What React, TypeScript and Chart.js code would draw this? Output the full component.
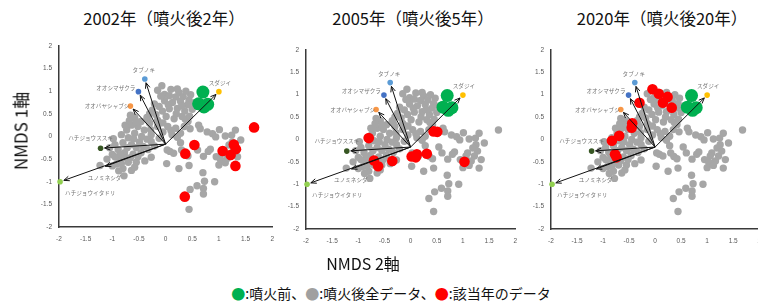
import React, { useEffect, useRef } from "react";
import { Chart, registerables } from "chart.js";

Chart.register(...registerables);

// ---------- data ----------
const panelTitles = ["2002年（噴火後2年）", "2005年（噴火後5年）", "2020年（噴火後20年）"];
const axisTicks = [-2, -1.5, -1, -0.5, 0, 0.5, 1, 1.5, 2];
const yAxisTitle = "NMDS 1軸";
const xAxisTitle = "NMDS 2軸";
const legendLabels = ["噴火前、", "噴火後全データ、", "該当年のデータ"];

const speciesNames = ["タブノキ", "オオシマザクラ", "オオバヤシャブシ", "ハチジョウススキ", "ユノミネシダ", "ハチジョウイタドリ", "スダジイ"];
const speciesNmds2 = [-0.39, -0.51, -0.66, -1.22, -1.2, -1.98, 1.0];
const speciesNmds1 = [1.27, 0.99, 0.67, -0.26, -0.69, -1.0, 0.99];
const vectorOrigin = [0, -0.17];

// [NMDS2, NMDS1]
const preEruption = [[0.70, 0.98], [0.62, 0.72], [0.72, 0.65], [0.79, 0.71]];

const postEruptionAll = [
  [-0.07, 1.12], [0.10, 1.04], [0.25, 0.97], [-0.15, 1.02], [-0.02, 0.93], [0.07, 0.90], [0.19, 0.87], [0.33, 0.88],
  [0.47, 0.92], [0.44, 0.80], [-0.02, 0.79], [0.13, 0.75], [0.28, 0.78], [0.41, 0.70], [0.53, 0.74], [-0.12, 0.66],
  [-0.06, 0.56], [0.07, 0.61], [0.22, 0.62], [0.36, 0.56], [0.50, 0.60], [-0.25, 0.58], [-0.18, 0.48], [0.01, 0.44],
  [0.16, 0.39], [0.31, 0.44], [0.42, 0.33], [-0.35, 0.42], [-0.30, 0.29], [-0.15, 0.22], [0.04, 0.22], [0.19, 0.18],
  [0.28, 0.07], [0.12, 0.04], [-0.05, 0.10], [-0.27, 0.04], [-0.40, 0.14], [-0.46, 0.33], [-0.58, 0.42], [-0.52, 0.22],
  [-0.64, 0.25], [-0.66, 0.47], [-0.73, 0.14], [-0.83, 0.04], [-0.70, -0.03], [-0.58, 0.07], [-0.45, 0.00], [-0.35, -0.06],
  [-0.49, -0.12], [-0.64, -0.18], [-0.80, -0.14], [-0.95, -0.18], [-0.89, -0.29], [-0.77, -0.36], [-0.61, -0.39], [-0.46, -0.36],
  [-0.33, -0.29], [-0.21, -0.21], [-0.27, -0.11], [-0.12, -0.04], [-0.55, -0.25], [-0.72, -0.25], [-0.86, -0.50], [-0.70, -0.57],
  [-0.55, -0.57], [-0.39, -0.54], [-0.27, -0.46], [-0.42, -0.22], [-0.66, -0.47], [-0.80, -0.71], [-0.64, -0.75], [-0.92, -0.61],
  [-0.78, -0.87], [-0.88, -0.76], [-1.00, -0.65], [-1.10, -0.50], [-1.23, -0.64], [-0.98, -0.05], [-1.00, -0.40], [0.37, 0.38],
  [-0.11, 0.30], [0.03, -0.30], [-0.33, 0.36], [-0.76, 0.25], [-0.09, 0.89],
  [-0.21, 0.72], [-0.30, 0.50], [-0.15, 0.36], [-0.28, 0.15], [0.22, 1.05], [0.38, 1.00], [0.05, 0.70], [0.30, 0.67],
  [0.20, 0.50], [0.45, 0.45], [-0.05, 0.30], [0.10, 0.13], [0.22, -0.02], [-0.60, -0.05], [-0.85, -0.40], [-0.52, -0.45],
  [-0.75, -0.47], [-0.95, -0.45], [-0.58, -0.68], [-0.83, -0.60], [-1.05, -0.25], [-0.68, 0.35], [-0.55, 0.33], [0.95, -0.45],
  [1.35, -0.45], [0.60, -0.30],
  [1.68, 0.21], [0.62, 0.25], [0.65, 0.17], [0.78, 0.10], [0.88, 0.06], [1.01, 0.15], [1.12, 0.01], [1.24, 0.03],
  [1.31, 0.14], [1.41, -0.08], [1.25, -0.12], [1.19, -0.19], [1.28, -0.26], [1.09, -0.30], [1.22, -0.37], [1.06, -0.37],
  [1.16, -0.48], [1.03, -0.51], [1.00, -0.63], [1.12, -0.58], [1.31, -0.64], [0.94, -0.01], [0.84, -0.28], [0.80, -0.33],
  [0.71, -0.44], [0.54, -0.17], [0.46, 0.17], [0.35, 0.22], [0.28, -0.14], [0.30, -0.30], [0.36, -0.38], [0.42, -0.43],
  [0.08, -0.33], [0.15, -0.37], [0.02, -0.60], [0.25, -0.71], [0.44, -0.64], [0.70, -0.80], [0.92, -1.00], [0.73, -0.99],
  [0.59, -1.09], [0.71, -1.15], [0.71, -1.27], [0.46, -1.17], [0.35, -1.32], [0.44, -1.61],
];

const year2002 = [[0.54, -0.19], [0.37, -0.38], [1.07, -0.32], [1.28, -0.18], [1.32, -0.28], [1.22, -0.41], [1.31, -0.65], [0.36, -1.33], [1.66, 0.20]];
const year2005 = [[-0.80, 0.03], [-0.70, -0.47], [-0.62, -0.60], [-0.35, -0.48], [0.02, -0.38], [0.10, -0.40], [0.12, -0.33], [0.31, -0.32], [0.44, 0.18], [0.51, 0.17], [1.03, -0.50]];
const year2020 = [[-0.05, 1.12], [0.07, 1.02], [0.24, 0.95], [0.15, 0.82], [0.32, 0.71], [-0.30, 0.82], [-0.44, 0.36], [-0.45, 0.26], [-0.69, 0.08], [-0.83, -0.03], [-0.77, -0.33], [-0.74, -0.40]];
const yearSets = [year2002, year2005, year2020];

// ---------- styles ----------
const speciesColors = ["#5b9bd5", "#4472c4", "#f79646", "#375623", "rgba(0,0,0,0)", "#92d050", "#ffc000"];
const labelPlacement = [
  { dx: -1, dy: -9, align: "center" },
  { dx: -3, dy: -4, align: "right" },
  { dx: -1, dy: 0, align: "right" },
  { dx: -10, dy: -10, align: "center" },
  { dx: 3, dy: 10, align: "center" },
  { dx: 5, dy: 11, align: "left" },
  { dx: 1, dy: -9, align: "center" },
];
const CJK = "'Noto Sans CJK JP', 'Noto Sans', sans-serif";

// panel geometry: chart area in page coordinates
const panels = [
  { left: 59, right: 276, top: 40, bottom: 227 },
  { left: 306, right: 519, top: 44, bottom: 229 },
  { left: 551, right: 763, top: 44, bottom: 229 },
];
const titleCenters = [164, 413, 662];
const Y_W = 30, PAD_R = 6, PAD_T = 5, X_H = 18, PAD_B = 2;

const toPts = (arr: number[][]) => arr.map(([x, y]) => ({ x, y }));

const vectorPlugin = {
  id: "vectors",
  afterDatasetsDraw(chart: any) {
    const { ctx, scales } = chart;
    const xs = scales.x, ys = scales.y;
    const ox = xs.getPixelForValue(vectorOrigin[0]);
    const oy = ys.getPixelForValue(vectorOrigin[1]);
    ctx.save();
    speciesNames.forEach((name, i) => {
      const px = xs.getPixelForValue(speciesNmds2[i]);
      const py = ys.getPixelForValue(speciesNmds1[i]);
      const dx = px - ox, dy = py - oy;
      const len = Math.hypot(dx, dy);
      const ux = dx / len, uy = dy / len;
      const tx = px - ux * 4, ty = py - uy * 4;
      ctx.strokeStyle = "#111";
      ctx.lineWidth = 1;
      ctx.beginPath();
      ctx.moveTo(ox, oy);
      ctx.lineTo(tx, ty);
      ctx.stroke();
      const ang = Math.atan2(uy, ux);
      ctx.beginPath();
      ctx.moveTo(tx - 6 * Math.cos(ang - 0.4), ty - 6 * Math.sin(ang - 0.4));
      ctx.lineTo(tx, ty);
      ctx.lineTo(tx - 6 * Math.cos(ang + 0.4), ty - 6 * Math.sin(ang + 0.4));
      ctx.stroke();
      const lp = labelPlacement[i];
      ctx.font = `5.6px ${CJK}`;
      ctx.fillStyle = "#767676";
      ctx.textAlign = lp.align;
      ctx.textBaseline = "middle";
      ctx.fillText(name, px + lp.dx, py + lp.dy);
    });
    ctx.restore();
  },
};

function Panel({ index }: { index: number }) {
  const ref = useRef<HTMLCanvasElement | null>(null);
  const g = panels[index];
  const cLeft = g.left - Y_W;
  const cTop = g.top - PAD_T;
  const width = Y_W + (g.right - g.left) + PAD_R;
  const height = PAD_T + (g.bottom - g.top) + X_H + PAD_B;

  useEffect(() => {
    if (!ref.current) return;
    const tickFont = { size: 6.5, family: "'Liberation Sans', sans-serif" };
    const chart = new Chart(ref.current, {
      type: "scatter",
      data: {
        datasets: [
          { data: toPts(postEruptionAll), backgroundColor: "#a6a6a6", borderWidth: 0, pointRadius: 3.7, order: 4 },
          { data: toPts(preEruption), backgroundColor: "#00b050", borderWidth: 0, pointRadius: 6.5, order: 3 },
          { data: toPts(yearSets[index]), backgroundColor: "#ff0000", borderWidth: 0, pointRadius: 5.3, order: 2 },
          {
            data: speciesNames.map((_, i) => ({ x: speciesNmds2[i], y: speciesNmds1[i] })),
            backgroundColor: speciesColors,
            borderWidth: 0,
            pointRadius: 2.8,
            clip: false,
            order: 1,
          },
        ],
      },
      options: {
        responsive: false,
        animation: false,
        devicePixelRatio: 1,
        layout: { padding: { left: 0, right: PAD_R, top: PAD_T, bottom: PAD_B } },
        plugins: { legend: { display: false }, tooltip: { enabled: false }, title: { display: false } },
        events: [],
        scales: {
          x: {
            type: "linear",
            min: -2,
            max: 2,
            afterBuildTicks: (s: any) => { s.ticks = axisTicks.map((v) => ({ value: v })); },
            afterFit: (s: any) => { s.height = X_H; },
            grid: { display: false, drawTicks: false },
            border: { display: true, color: "#3a3a3a", width: 1.5 },
            ticks: { font: tickFont, color: "#595959", padding: 8, maxRotation: 0, autoSkip: false, callback: (v: any) => String(v) },
          },
          y: {
            type: "linear",
            min: -2,
            max: 2,
            afterBuildTicks: (s: any) => { s.ticks = axisTicks.map((v) => ({ value: v })); },
            afterFit: (s: any) => { s.width = Y_W; },
            grid: { display: false, drawTicks: false },
            border: { display: true, color: "#3a3a3a", width: 1.5 },
            ticks: { font: tickFont, color: "#595959", padding: 7, autoSkip: false, callback: (v: any) => String(v) },
          },
        },
      },
      plugins: [vectorPlugin],
    } as any);
    return () => chart.destroy();
  }, [index]);

  return (
    <canvas
      ref={ref}
      width={width}
      height={height}
      style={{ position: "absolute", left: cLeft, top: cTop, width, height }}
    />
  );
}

const legendColors = ["#00b050", "#a0a0a0", "#ff0000"];

export default function App() {
  return (
    <div
      style={{
        position: "fixed",
        left: 0,
        top: 0,
        width: 758,
        height: 303,
        overflow: "hidden",
        background: "#fff",
        fontFamily: CJK,
      }}
    >
      {panelTitles.map((t, i) => (
        <div
          key={t}
          style={{
            position: "absolute",
            left: titleCenters[i],
            top: 18,
            transform: "translate(-50%, -50%)",
            fontSize: 16.5,
            whiteSpace: "nowrap",
            color: "#111",
            lineHeight: 1,
          }}
        >
          {t}
        </div>
      ))}
      {[0, 1, 2].map((i) => (
        <Panel key={i} index={i} />
      ))}
      <div
        style={{
          position: "absolute",
          left: 20,
          top: 131,
          transform: "translate(-50%, -50%) rotate(-90deg)",
          fontSize: 17,
          whiteSpace: "nowrap",
          color: "#111",
          lineHeight: 1,
        }}
      >
        {yAxisTitle}
      </div>
      <div
        style={{
          position: "absolute",
          left: 363,
          top: 263,
          transform: "translate(-50%, -50%)",
          fontSize: 16,
          whiteSpace: "nowrap",
          color: "#111",
          lineHeight: 1,
        }}
      >
        {xAxisTitle}
      </div>
      <div
        style={{
          position: "absolute",
          left: 391,
          top: 293,
          transform: "translate(-50%, -50%)",
          fontSize: 14,
          whiteSpace: "nowrap",
          color: "#111",
          lineHeight: 1,
        }}
      >
        {legendLabels.map((l, i) => (
          <span key={l}>
            <span style={{ color: legendColors[i] }}>●</span>:{l}
          </span>
        ))}
      </div>
    </div>
  );
}
